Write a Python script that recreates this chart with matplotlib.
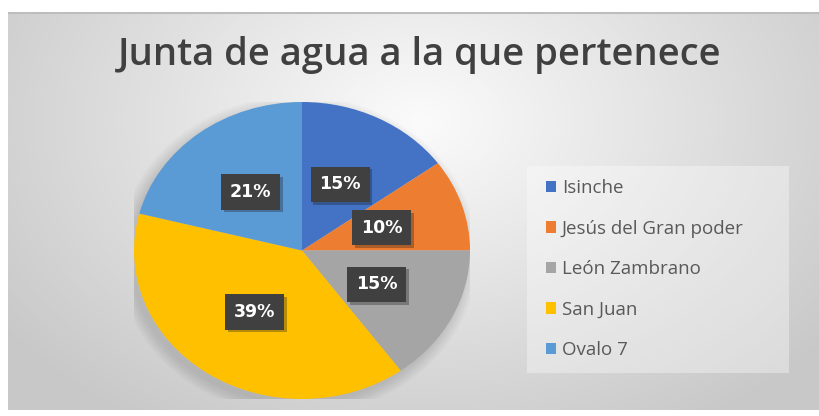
import numpy as np
import matplotlib.pyplot as plt
from matplotlib.patches import Ellipse, Rectangle
import matplotlib.patheffects as pe

W, H = 819, 416

labels = ['Isinche', 'Jesús del Gran poder', 'León Zambrano', 'San Juan', 'Ovalo 7']
values = [15, 10, 15, 39, 21]
colors = ['#4472C4', '#ED7D31', '#A5A5A5', '#FFC000', '#5B9BD5']
title = 'Junta de agua a la que pertenece'


def px(x0, y0, x1, y1):
    # pixel box (top-left origin) -> figure fraction rect
    return [x0 / W, 1 - y1 / H, (x1 - x0) / W, (y1 - y0) / H]


fig = plt.figure(figsize=(W / 100, H / 100), dpi=100)
fig.patch.set_facecolor('white')

# chart area with radial gradient
bg = fig.add_axes(px(8, 12, 819, 410))
yy, xx = np.mgrid[12:410, 8:819]
d = np.sqrt(((xx - 420) / 430.0) ** 2 + ((yy - 120) / 300.0) ** 2)
shade = 0.985 - 0.20 * np.clip(d, 0, 1.2) / 1.2
bg.imshow(np.dstack([shade] * 3), extent=(8, 819, 410, 12), aspect='auto')
bg.set_xlim(8, 819)
bg.set_ylim(410, 12)
bg.axis('off')
bg.plot([8, 819], [12.5, 12.5], color='#bdbdbd', lw=1.5)
bg.add_patch(Rectangle((527, 166), 262, 207, color='white', alpha=0.35, lw=0))

fig.text(420 / W, 1 - 55 / H, title, ha='center', va='center',
         fontsize=27.5, color='#404040', family='Open Sans', fontweight='semibold')

ax = fig.add_axes(px(134, 102, 470, 399))
# soft shadow behind the pie
for i in range(8):
    ax.add_patch(Ellipse((-0.025, -0.035), 2 + 0.02 * i, 2 + 0.022 * i,
                         color='black', alpha=0.014, lw=0, zorder=0))
wedges, texts, autotexts = ax.pie(
    values, colors=colors, startangle=90, counterclock=False,
    autopct='%1.0f%%', pctdistance=0.5, radius=1,
    wedgeprops=dict(linewidth=0),
    textprops=dict(color='white', fontsize=12.5, fontweight='bold'))
for t in autotexts:
    t.set_bbox(dict(boxstyle='square,pad=0.5', fc='#404040', ec='none'))
    t.get_bbox_patch().set_path_effects(
        [pe.SimplePatchShadow(offset=(2, -2), alpha=0.3), pe.Normal()])
ax.set_aspect('auto')
ax.set_xlim(-1, 1)
ax.set_ylim(-1, 1)

fig.legend(wedges, labels, loc='upper left',
           bbox_to_anchor=(546 / W, 1 - 179 / H), frameon=False,
           prop=dict(family='Open Sans', size=13.5), labelcolor='#595959',
           handlelength=0.55, handleheight=0.55, handletextpad=0.3,
           labelspacing=1.2, borderpad=0, borderaxespad=0)

fig.savefig('out.png', dpi=100)
